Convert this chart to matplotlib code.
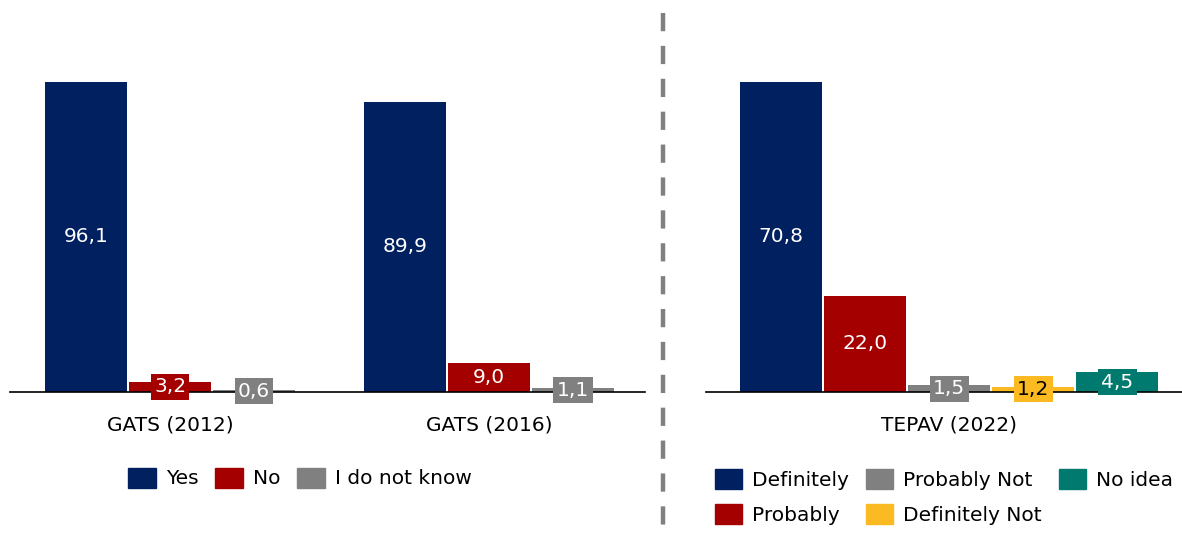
import matplotlib.pyplot as plt
import numpy as np
from matplotlib.lines import Line2D
from matplotlib.patches import Patch

# left panel: GATS surveys
gats_groups = ["GATS (2012)", "GATS (2016)"]
gats_series = ["Yes", "No", "I do not know"]
gats_yes = [96.1, 89.9]
gats_no = [3.2, 9.0]
gats_idk = [0.6, 1.1]
gats_colors = ["#002060", "#A50000", "#808080"]

# right panel: TEPAV survey
tepav_group = ["TEPAV (2022)"]
tepav_series = ["Definitely", "Probably", "Probably Not", "Definitely Not", "No idea"]
tepav_values = [70.8, 22.0, 1.5, 1.2, 4.5]
tepav_colors = ["#002060", "#A50000", "#808080", "#FBBA21", "#007A6E"]

plt.rcParams['font.family'] = ['DejaVu Sans']
FS = 14.5
W, H = 1182, 538

fig = plt.figure(figsize=(W / 100, H / 100), dpi=100)
ax1 = fig.add_axes([10 / W, 146 / H, 635 / W, 382 / H])
ax2 = fig.add_axes([706 / W, 146 / H, 476 / W, 382 / H])

step = 84 / 319
width = 82 / 319


def fmt(v):
    return f"{v:.1f}".replace(".", ",")


def add_label(ax, x, v, color):
    txt_color = "black" if color == "#FBBA21" else "white"
    ax.text(x, v / 2, fmt(v), ha="center", va="center", fontsize=FS, color=txt_color,
            bbox=dict(boxstyle="square,pad=0.17", fc=color, ec="none"), zorder=4)


def style(ax):
    for s in ["top", "right", "left"]:
        ax.spines[s].set_visible(False)
    ax.spines["bottom"].set_color("black")
    ax.spines["bottom"].set_linewidth(1.2)
    ax.spines["bottom"].set_zorder(3)
    ax.set_yticks([])
    ax.tick_params(axis="x", length=0, pad=17, labelsize=FS)


x = np.arange(len(gats_groups))
for i, vals in enumerate([gats_yes, gats_no, gats_idk]):
    pos = x + (i - 1) * step
    ax1.bar(pos, vals, width, color=gats_colors[i], zorder=2)
    for p, v in zip(pos, vals):
        add_label(ax1, p, v, gats_colors[i])
ax1.set_xticks(x)
ax1.set_xticklabels(gats_groups)
ax1.set_xlim(-0.5016, 1.489)
ax1.set_ylim(0, max(gats_yes) * 382 / 310)
style(ax1)

for i, v in enumerate(tepav_values):
    p = (i - 2) * step
    ax2.bar(p, v, width, color=tepav_colors[i], zorder=2)
    add_label(ax2, p, v, tepav_colors[i])
ax2.set_xticks([0])
ax2.set_xticklabels(tepav_group)
ax2.set_xlim(-0.762, 0.730)
ax2.set_ylim(0, max(tepav_values) * 382 / 310)
style(ax2)

# dashed separator
fig.add_artist(Line2D([663 / W, 663 / W], [1 - 13 / H, 0], transform=fig.transFigure,
                      color="#808080", lw=3.2, linestyle=(0, (4.1, 3.3))))

h1 = [Patch(color=c) for c in gats_colors]
fig.legend(h1, gats_series, loc="center", bbox_to_anchor=(300 / W, 1 - 478 / H), ncol=3,
           frameon=False, fontsize=FS, handlelength=1.35, handleheight=1.15,
           handletextpad=0.5, columnspacing=0.85)

h2 = [Patch(color=c) for c in tepav_colors]
fig.legend(h2, tepav_series, loc="center", bbox_to_anchor=(944 / W, 1 - 497 / H), ncol=3,
           frameon=False, fontsize=FS, handlelength=1.35, handleheight=1.15,
           handletextpad=0.5, columnspacing=0.85, labelspacing=0.7)

fig.savefig("out.png", dpi=100)
